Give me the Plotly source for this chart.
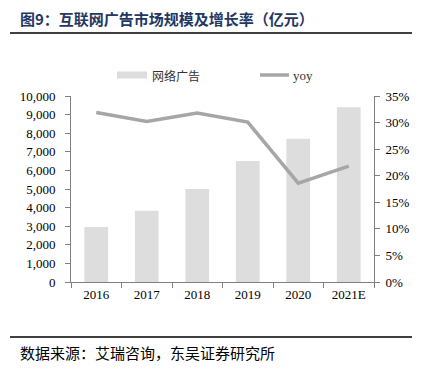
import plotly.graph_objects as go

years = ["2016", "2017", "2018", "2019", "2020", "2021E"]
ad_market = [2957, 3828, 5000, 6500, 7700, 9390]
yoy = [0.319, 0.302, 0.318, 0.301, 0.186, 0.218]
left_ticks = [0, 1000, 2000, 3000, 4000, 5000, 6000, 7000, 8000, 9000, 10000]
right_ticks = [0, 0.05, 0.10, 0.15, 0.20, 0.25, 0.30, 0.35]

# page body has an 8px default margin; offset the figure geometry accordingly
OFF = 8
W, H = 421 - OFF, 373 - OFF
L, R, T, B = 71 - OFF, 374 - OFF, 96 - OFF, 282 - OFF
serif = "Liberation Serif, Times New Roman, serif"
cjk = "Noto Sans CJK SC"

fig = go.Figure()
fig.add_trace(go.Bar(x=years, y=ad_market, name="网络广告", marker_color="#dddddd",
                     marker_line_width=0, width=0.47, showlegend=False))
fig.add_trace(go.Scatter(x=years, y=yoy, name="yoy", mode="lines", yaxis="y2",
                         line=dict(color="#a6a6a6", width=3.5), showlegend=False))

fig.update_layout(
    width=W, height=H,
    margin=dict(l=L, r=W - R, t=T, b=H - B, autoexpand=False),
    paper_bgcolor="white", plot_bgcolor="white",
    xaxis=dict(type="category", showline=True, linecolor="#808080", linewidth=1,
               ticks="outside", tickson="boundaries", ticklen=5, tickcolor="#808080",
               tickfont=dict(family=serif, size=13, color="#000"), showgrid=False),
    yaxis=dict(range=[0, 10000], tickvals=left_ticks, tickformat=",d", showline=True,
               linecolor="#808080", ticks="outside", ticklen=5, tickcolor="#808080",
               showgrid=False, zeroline=False, ticklabelstandoff=7,
               tickfont=dict(family=serif, size=13, color="#000")),
    yaxis2=dict(range=[0, 0.35], tickvals=right_ticks, tickformat=".0%", overlaying="y",
                side="right", showline=True, linecolor="#808080", ticks="outside",
                ticklen=5, tickcolor="#808080", showgrid=False, zeroline=False,
                ticklabelstandoff=3,
                tickfont=dict(family=serif, size=13, color="#000")),
)

def px(x):
    return (x - OFF - L) / (R - L)

def py(y):
    return (B - (y - OFF)) / (B - T)

shapes = [
    dict(type="line", xref="paper", yref="paper", x0=px(10), x1=px(412), y0=py(33), y1=py(33),
         line=dict(color="#000", width=1.5)),
    dict(type="line", xref="paper", yref="paper", x0=px(10), x1=px(412), y0=py(337), y1=py(337),
         line=dict(color="#000", width=1.5)),
    dict(type="rect", xref="paper", yref="paper", x0=px(117), x1=px(147), y0=py(78.5), y1=py(71.5),
         fillcolor="#dddddd", line_width=0),
    dict(type="line", xref="paper", yref="paper", x0=px(260), x1=px(289), y0=py(75), y1=py(75),
         line=dict(color="#a6a6a6", width=3.5)),
]
annotations = [
    dict(text="<b>图9：互联网广告市场规模及增长率（亿元）</b>", xref="paper", yref="paper",
         x=px(18), y=py(19), xanchor="left", yanchor="middle", showarrow=False,
         font=dict(family=cjk, size=15, color="#1f3864")),
    dict(text="网络广告", xref="paper", yref="paper", x=px(150), y=py(75), xanchor="left",
         yanchor="middle", showarrow=False, font=dict(family=cjk, size=12, color="#333")),
    dict(text="yoy", xref="paper", yref="paper", x=px(291), y=py(75), xanchor="left",
         yanchor="middle", showarrow=False, font=dict(family=serif, size=13, color="#333")),
    dict(text="数据来源：艾瑞咨询，东吴证券研究所", xref="paper", yref="paper",
         x=px(18), y=py(352), xanchor="left", yanchor="middle", showarrow=False,
         font=dict(family=cjk, size=15, color="#000")),
]
fig.update_layout(shapes=shapes, annotations=annotations)

fig.write_html("out.html")
